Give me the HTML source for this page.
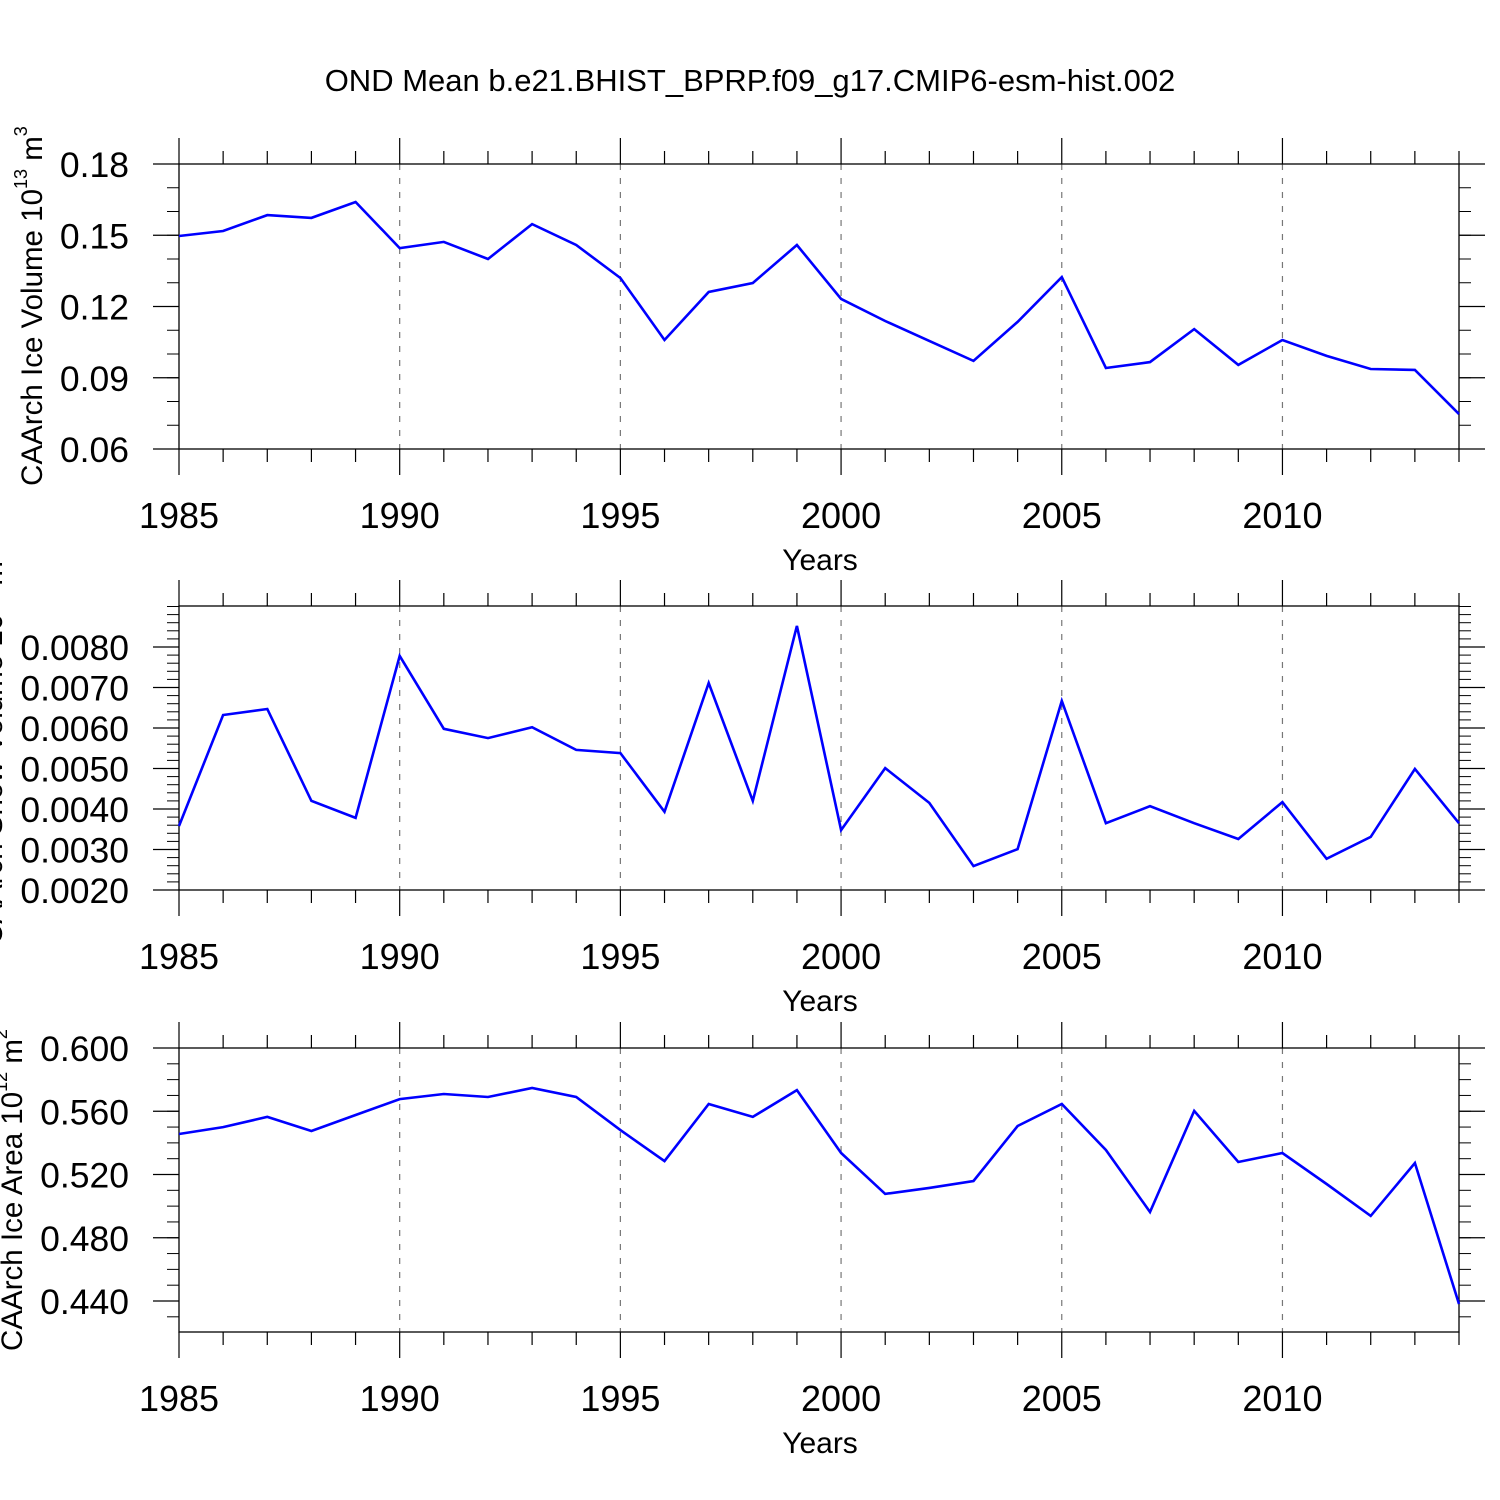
<!DOCTYPE html>
<html><head><meta charset="utf-8"><style>
html,body{margin:0;padding:0;background:#fff;}
svg{display:block;font-family:"Liberation Sans",Arial,sans-serif;}
</style></head><body>
<svg id="chart" width="1500" height="1500" viewBox="0 0 1500 1500" xmlns="http://www.w3.org/2000/svg">
<rect width="1500" height="1500" fill="#fff"/>
<text x="750" y="91" font-size="31" text-anchor="middle">OND Mean b.e21.BHIST_BPRP.f09_g17.CMIP6-esm-hist.002</text>
</svg>
<script>
const years = [1985,1986,1987,1988,1989,1990,1991,1992,1993,1994,1995,1996,1997,1998,1999,2000,2001,2002,2003,2004,2005,2006,2007,2008,2009,2010,2011,2012,2013,2014];
const iceVolume = [0.1497,0.1518,0.1585,0.1573,0.164,0.1446,0.1472,0.14,0.1547,0.1459,0.132,0.1059,0.1261,0.1299,0.1459,0.1232,0.1139,0.1055,0.0971,0.1135,0.1324,0.0941,0.0966,0.1105,0.0954,0.1059,0.0992,0.0937,0.0933,0.0747];
const snowVolume = [0.00358,0.00632,0.00647,0.0042,0.00378,0.00778,0.00598,0.00575,0.00602,0.00546,0.00538,0.00393,0.00711,0.0042,0.00852,0.00348,0.00501,0.00415,0.00259,0.00301,0.00667,0.00365,0.00407,0.00365,0.00326,0.00417,0.00277,0.00331,0.00499,0.00365];
const iceArea = [0.5456,0.55,0.5564,0.5475,0.5576,0.5677,0.5709,0.569,0.5747,0.569,0.5481,0.5285,0.5646,0.5564,0.5734,0.5336,0.5077,0.5115,0.5159,0.5507,0.5646,0.5355,0.4963,0.5602,0.5279,0.5336,0.514,0.4938,0.5273,0.4381];
const xTickLabels = ["1985","1990","1995","2000","2005","2010"];
const iceVolumeTicks = ["0.06","0.09","0.12","0.15","0.18"];
const snowVolumeTicks = ["0.0020","0.0030","0.0040","0.0050","0.0060","0.0070","0.0080"];
const iceAreaTicks = ["0.440","0.480","0.520","0.560","0.600"];

const NS = "http://www.w3.org/2000/svg";
const svg = document.getElementById('chart');
function mk(tag, attrs, parent){const e=document.createElementNS(NS,tag);for(const k in attrs)e.setAttribute(k,attrs[k]);(parent||svg).appendChild(e);return e;}

const X0=179, X1=1459, YR0=1985, YR1=2014;
function xs(v){return X0+(v-YR0)/(YR1-YR0)*(X1-X0);}

const panels = [
 {name:'ice-volume', vals:iceVolume, ticks:iceVolumeTicks, top:164, bot:449, vmin:0.06, vmax:0.18, minor:0.01, label:'CAArch Ice Volume 10', sup:'13', unit:' m', usup:'3', lx:42, ly:306},
 {name:'snow-volume', vals:snowVolume, ticks:snowVolumeTicks, top:606, bot:890, vmin:0.0020, vmax:0.0020+284/40500, minor:0.0002, label:'CAArch Snow Volume 10', sup:'13', unit:' m', usup:'3', lx:2, ly:748},
 {name:'ice-area', vals:iceArea, ticks:iceAreaTicks, top:1048, bot:1332, vmin:0.44-31/1581.25, vmax:0.6, minor:0.01, label:'CAArch Ice Area 10', sup:'12', unit:' m', usup:'2', lx:22, ly:1190}
];

panels.forEach(p=>{
  const g = mk('g',{});
  
  
  const ys = v => p.bot-(v-p.vmin)/(p.vmax-p.vmin)*(p.bot-p.top);
  xTickLabels.slice(1).forEach(t=>{
    const gl = mk('line',{x1:xs(+t),x2:xs(+t),y1:p.top,y2:p.bot,stroke:'#777','stroke-width':1.2,'stroke-dasharray':'6,8'},g);
    
    
  });
  years.forEach(yv=>{
    const major = (yv%5===0);
    const L = major?26:13;
    mk('line',{x1:xs(yv),x2:xs(yv),y1:p.top-L,y2:p.top,stroke:'#000','stroke-width':1.2},g);
    mk('line',{x1:xs(yv),x2:xs(yv),y1:p.bot,y2:p.bot+L,stroke:'#000','stroke-width':1.2},g);
  });
  xTickLabels.forEach(t=>{
    const tx = mk('text',{x:xs(+t),y:p.bot+79,'font-size':36,'text-anchor':'middle'},g);
    tx.textContent=t;
    
    
  });
  const xt = mk('text',{x:820,y:p.bot+121,'font-size':30,'text-anchor':'middle'},g);
  xt.textContent='Years';
  
  
  const n = Math.round((p.vmax-p.vmin)/p.minor)+2;
  const start = Math.ceil(p.vmin/p.minor-1e-6)*p.minor;
  for(let i=0;i<n;i++){
    const v = start+i*p.minor;
    if(v>p.vmax+1e-9) break;
    const y = ys(v);
    mk('line',{x1:X0-12,x2:X0,y1:y,y2:y,stroke:'#000','stroke-width':1},g);
    mk('line',{x1:X1,x2:X1+12,y1:y,y2:y,stroke:'#000','stroke-width':1},g);
  }
  p.ticks.forEach(t=>{
    const y = ys(+t);
    mk('line',{x1:X0-26,x2:X0,y1:y,y2:y,stroke:'#000','stroke-width':1.2},g);
    mk('line',{x1:X1,x2:X1+26,y1:y,y2:y,stroke:'#000','stroke-width':1.2},g);
    const tx = mk('text',{x:129,y:y+13,'font-size':35.5,'text-anchor':'end'},g);
    tx.textContent=t;
    
    
  });
  const fr = mk('rect',{x:X0,y:p.top,width:X1-X0,height:p.bot-p.top,fill:'none',stroke:'#000','stroke-width':1.3},g);
  
  
  const pts = p.vals.map((v,i)=>xs(years[i]).toFixed(1)+','+ys(v).toFixed(1)).join(' ');
  const pl = mk('polyline',{points:pts,fill:'none',stroke:'#0000ff','stroke-width':2.6,'stroke-linejoin':'miter'},g);
  
  
  const yl = mk('text',{x:0,y:0,'font-size':29.5,'text-anchor':'middle',transform:`translate(${p.lx},${p.ly}) rotate(-90)`},g);
  
  
  const t1=mk('tspan',{},yl); t1.textContent=p.label;
  const t2=mk('tspan',{'font-size':18,dy:-15},yl); t2.textContent=p.sup;
  const t3=mk('tspan',{dy:15},yl); t3.textContent=p.unit;
  const t4=mk('tspan',{'font-size':18,dy:-15},yl); t4.textContent=p.usup;
});
</script>
</body></html>
